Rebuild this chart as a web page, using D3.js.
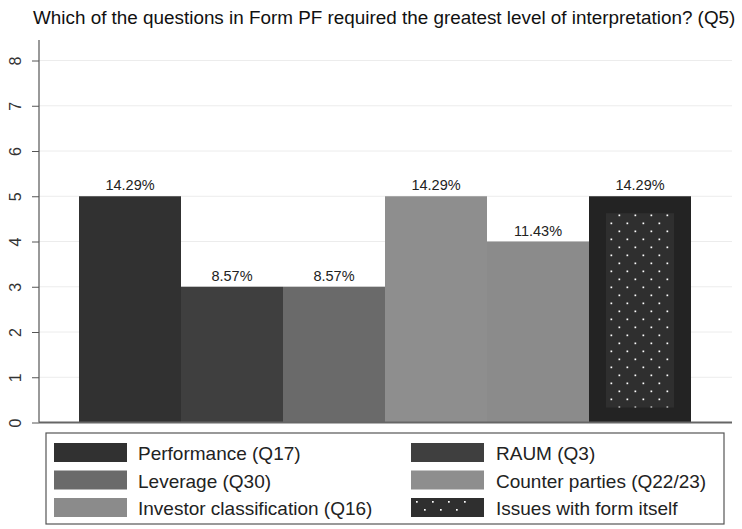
<!DOCTYPE html>
<html>
<head>
<meta charset="utf-8">
<script src="https://cdn.jsdelivr.net/npm/d3@7"></script>
<style>
  body { margin: 0; background: #fff; }
  svg { display: block; font-family: "Liberation Sans", Arial, sans-serif; }
</style>
</head>
<body>
<svg id="chart" width="742" height="529"></svg>
<script>
const title = "Which of the questions in Form PF required the greatest level of interpretation? (Q5)";
const categories = [
  "Performance (Q17)",
  "RAUM (Q3)",
  "Leverage (Q30)",
  "Counter parties (Q22/23)",
  "Investor classification (Q16)",
  "Issues with form itself"
];
const counts = [5, 3, 3, 5, 4, 5];
const pctLabels = ["14.29%", "8.57%", "8.57%", "14.29%", "11.43%", "14.29%"];
const yTicks = [0, 1, 2, 3, 4, 5, 6, 7, 8];

// grey shades per category (last one gets the dotted pattern)
const fills = ["#313131", "#3f3f3f", "#6a6a6a", "#8e8e8e", "#8b8b8b", "#232323"];

const svg = d3.select("#chart");

// dotted fill for "Issues with form itself"
const defs = svg.append("defs");
const pat = defs.append("pattern")
  .attr("id", "dots")
  .attr("patternUnits", "userSpaceOnUse")
  .attr("x", 606).attr("y", 213)
  .attr("width", 16).attr("height", 16);
pat.append("rect").attr("width", 16).attr("height", 16).attr("fill", "#2f2f2f");
pat.append("rect").attr("x", 12.5).attr("y", 1.5).attr("width", 1.7).attr("height", 1.7).attr("fill", "#fff");
pat.append("rect").attr("x", 4.5).attr("y", 9.5).attr("width", 1.7).attr("height", 1.7).attr("fill", "#fff");

const pat2 = defs.append("pattern")
  .attr("id", "dotsLegend")
  .attr("patternUnits", "userSpaceOnUse")
  .attr("x", 411).attr("y", 498)
  .attr("width", 16).attr("height", 16);
pat2.append("rect").attr("width", 16).attr("height", 16).attr("fill", "#2f2f2f");
pat2.append("rect").attr("x", 10).attr("y", 1).attr("width", 1.7).attr("height", 1.7).attr("fill", "#fff");
pat2.append("rect").attr("x", 2).attr("y", 9).attr("width", 1.7).attr("height", 1.7).attr("fill", "#fff");

const y = d3.scaleLinear().domain([0, 8]).range([422.5, 60.5]);
const x = d3.scaleBand().domain(categories).range([79, 691]).padding(0);
const plotLeft = 39, plotRight = 732, plotTop = 40;

// title, scaled to the width it takes in the reference
const t = svg.append("text")
  .attr("x", 33).attr("y", 24)
  .attr("fill", "#111")
  .style("font-size", "18px")
  .text(title);
const tw = t.node().getComputedTextLength();
t.style("font-size", (18 * 703 / tw) + "px");

// gridlines
svg.append("g")
  .selectAll("line")
  .data(yTicks.filter(d => d > 0))
  .join("line")
  .attr("x1", plotLeft).attr("x2", plotRight)
  .attr("y1", d => y(d)).attr("y2", d => y(d))
  .attr("stroke", "#ececec")
  .attr("stroke-width", 1);

// bars
const bars = svg.append("g");
bars.selectAll("rect")
  .data(categories)
  .join("rect")
  .attr("x", d => x(d))
  .attr("y", (d, i) => y(counts[i]))
  .attr("width", x.bandwidth())
  .attr("height", (d, i) => y(0) - y(counts[i]))
  .attr("fill", (d, i) => fills[i]);

// inner dotted panel of the last bar
const last = categories[categories.length - 1];
const lastVal = counts[counts.length - 1];
bars.append("rect")
  .attr("x", x(last) + 17)
  .attr("y", y(lastVal) + 17)
  .attr("width", x.bandwidth() - 34)
  .attr("height", y(0) - y(lastVal) - 32)
  .attr("fill", "url(#dots)");

// value labels
svg.append("g")
  .selectAll("text")
  .data(categories)
  .join("text")
  .attr("x", d => x(d) + x.bandwidth() / 2)
  .attr("y", (d, i) => y(counts[i]) - 6)
  .attr("text-anchor", "middle")
  .attr("fill", "#222")
  .style("font-size", "14.5px")
  .text((d, i) => pctLabels[i]);

// y axis
const yAxis = svg.append("g")
  .attr("transform", `translate(${plotLeft},0)`)
  .call(d3.axisLeft(y).tickValues(yTicks).tickSize(7).tickPadding(0).tickFormat(d3.format("d")))
  .attr("font-size", 16)
  .attr("font-family", null);
yAxis.select(".domain").remove();
yAxis.selectAll(".tick line").attr("stroke", "#555");
yAxis.selectAll(".tick text")
  .attr("x", 0).attr("dy", 0)
  .attr("transform", "translate(-24,0) rotate(-90)")
  .attr("text-anchor", "middle")
  .attr("dominant-baseline", "central")
  .attr("fill", "#333");
svg.append("line")
  .attr("x1", plotLeft).attr("x2", plotLeft)
  .attr("y1", plotTop).attr("y2", y(0))
  .attr("stroke", "#555").attr("stroke-width", 1.2);

// x baseline
svg.append("line")
  .attr("x1", plotLeft).attr("x2", plotRight)
  .attr("y1", y(0)).attr("y2", y(0))
  .attr("stroke", "#666").attr("stroke-width", 2);

// legend (two columns, row-major)
const legend = svg.append("g");
legend.append("rect")
  .attr("x", 46).attr("y", 433)
  .attr("width", 678).attr("height", 91)
  .attr("fill", "#fff")
  .attr("stroke", "#555").attr("stroke-width", 1.2);

const colX = [54, 411];
const rowY = [443, 470.5, 498];
const items = legend.selectAll("g.item")
  .data(categories)
  .join("g")
  .attr("class", "item")
  .attr("transform", (d, i) => `translate(${colX[i % 2]},${rowY[Math.floor(i / 2)]})`);

items.append("rect")
  .attr("width", 73).attr("height", 19)
  .attr("fill", (d, i) => i === categories.length - 1 ? "#2f2f2f" : fills[i]);

items.filter((d, i) => i === categories.length - 1)
  .append("rect")
  .attr("width", 60).attr("height", 19)
  .attr("fill", "url(#dotsLegend)");

items.append("text")
  .attr("x", (d, i) => i % 2 === 0 ? 84 : 85)
  .attr("y", 17)
  .attr("fill", "#222")
  .style("font-size", "19px")
  .text(d => d);
</script>
</body>
</html>
